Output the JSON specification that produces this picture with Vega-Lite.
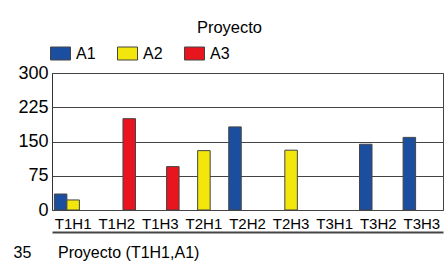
{
  "$schema": "https://vega.github.io/schema/vega-lite/v6.json",
  "width": 391,
  "height": 137,
  "autosize": {"type": "none"},
  "padding": {"left": 52, "top": 73, "right": 4, "bottom": 55},
  "background": "white",
  "title": {
    "text": "Proyecto",
    "anchor": "middle",
    "frame": "group",
    "dx": -18,
    "dy": 18,
    "font": "Liberation Sans",
    "fontSize": 16.5,
    "fontWeight": "normal",
    "color": "black",
    "baseline": "alphabetic",
    "offset": 12
  },
  "data": {
    "values": [
      {"cat": "T1H1", "series": "A1", "value": 35},
      {"cat": "T1H1", "series": "A2", "value": 22},
      {"cat": "T1H2", "series": "A3", "value": 200},
      {"cat": "T1H3", "series": "A3", "value": 95},
      {"cat": "T2H1", "series": "A2", "value": 130},
      {"cat": "T2H2", "series": "A1", "value": 182},
      {"cat": "T2H3", "series": "A2", "value": 131},
      {"cat": "T3H2", "series": "A1", "value": 144},
      {"cat": "T3H3", "series": "A1", "value": 159}
    ]
  },
  "mark": {"type": "bar", "stroke": "#444444", "strokeWidth": 1},
  "encoding": {
    "x": {
      "field": "cat",
      "type": "nominal",
      "scale": {"domain": ["T1H1", "T1H2", "T1H3", "T2H1", "T2H2", "T2H3", "T3H1", "T3H2", "T3H3"], "paddingInner": 0.03, "paddingOuter": 0},
      "axis": {
        "orient": "bottom",
        "offset": 22,
        "domain": true,
        "domainColor": "#444444",
        "domainWidth": 2,
        "ticks": true,
        "tickSize": 6,
        "tickOpacity": 0,
        "grid": false,
        "labelAngle": 0,
        "labelPadding": -10,
        "labelBaseline": "alphabetic",
        "labelFont": "Liberation Sans",
        "labelFontSize": 15,
        "labelColor": "black",
        "title": "35\u00a0\u00a0\u00a0\u00a0\u00a0\u00a0Proyecto (T1H1,A1)",
        "titleFont": "Liberation Sans",
        "titleFontSize": 16,
        "titleFontWeight": "normal",
        "titleColor": "black",
        "titleX": -39,
        "titleY": 25,
        "titleAlign": "left",
        "titleBaseline": "alphabetic"
      }
    },
    "xOffset": {
      "field": "series",
      "type": "nominal",
      "scale": {"domain": ["A1", "A2", "A3"], "paddingInner": 0, "paddingOuter": 0.19}
    },
    "y": {
      "field": "value",
      "type": "quantitative",
      "scale": {"domain": [0, 300], "nice": false},
      "axis": {
        "values": [0, 75, 150, 225, 300],
        "title": null,
        "ticks": false,
        "domain": true,
        "domainColor": "#333333",
        "grid": true,
        "gridColor": "#444444",
        "gridWidth": 1,
        "labelPadding": 4,
        "labelFont": "Liberation Sans",
        "labelFontSize": 18,
        "labelColor": "black"
      }
    },
    "color": {
      "field": "series",
      "type": "nominal",
      "scale": {"domain": ["A1", "A2", "A3"], "range": ["#1c4ea0", "#f2e60c", "#e8141e"]},
      "legend": {
        "title": null,
        "orient": "none",
        "legendX": -2,
        "legendY": -30,
        "direction": "horizontal",
        "symbolType": "M-1,-0.65H1V0.65H-1Z",
        "symbolSize": 400,
        "symbolStrokeColor": "#444444",
        "symbolStrokeWidth": 1,
        "symbolOpacity": 1,
        "labelFont": "Liberation Sans",
        "labelFontSize": 16,
        "labelColor": "black",
        "labelOffset": 5,
        "columnPadding": 19
      }
    }
  },
  "config": {
    "view": {"stroke": "#444444", "strokeWidth": 1}
  }
}
